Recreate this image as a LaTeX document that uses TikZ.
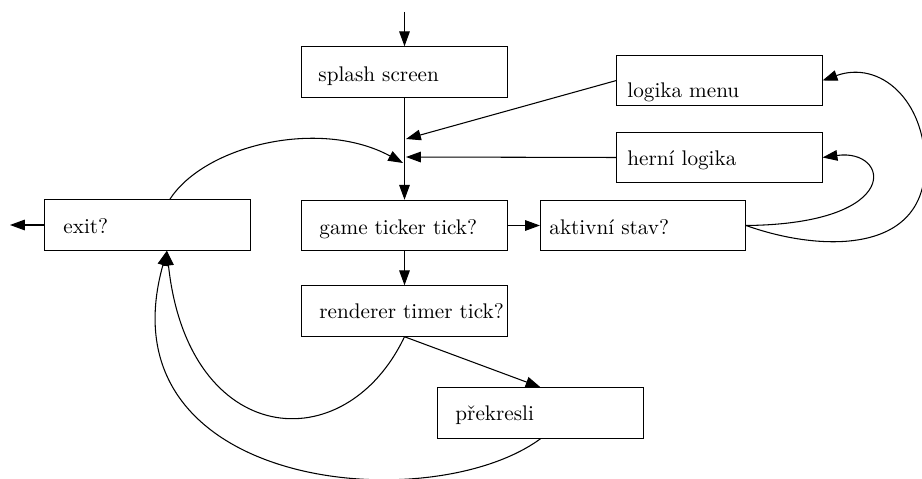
\documentclass[tikz,border=0pt]{standalone}
\usepackage{fontspec}
\usetikzlibrary{arrows.meta}
\begin{document}
\begin{tikzpicture}[x=0.472pt,y=-0.472pt,
  box/.style={draw, line width=0.5pt, minimum width=96.8pt, minimum height=23.8pt, inner sep=0pt},
  txt/.style={anchor=base west, inner sep=0pt},
  conn/.style={line width=0.5pt, -{Triangle[length=7pt,width=5pt]}}]
\useasboundingbox (0,0) rectangle (922,479);
% boxes
\node[box] (splash) at (404.5,72) {};
\node[box] (logika) at (719.5,80.5) {};
\node[box] (herni) at (719.5,157.5) {};
\node[box] (game) at (404.5,225.5) {};
\node[box] (aktivni) at (643,225.5) {};
\node[box] (exit) at (147.5,225) {};
\node[box] (renderer) at (404.5,311) {};
\node[box] (prekresli) at (540.5,413) {};
% texts
\node[txt] (tsplash) at (318,81.5) {splash screen};
\node[txt] (tlogika) at (627,97.5) {logika menu};
\node[txt] (therni) at (627,166) {herní logika};
\node[txt] (tgame) at (319,235) {game ticker tick?};
\node[txt] (taktivni) at (549,235) {aktivní stav?};
\node[txt] (texit) at (63,234) {exit?};
\node[txt] (trenderer) at (319,319) {renderer timer tick?};
\node[txt] (tprekresli) at (455,421) {překresli};
% free ends
\coordinate (start) at (404.5,12);
\coordinate (j1) at (406,139);
\coordinate (j2) at (406,157);
\coordinate (j3) at (403,163);
\coordinate (out) at (10,225);
% connectors
\draw[conn] (start) -- (splash.north);
\draw[conn] (splash.south) -- (game.north);
\draw[conn] (logika.west) -- (j1);
\draw[conn] (herni.west) -- (j2);
\draw[conn] (exit.49) .. controls (205,145) and (320,118) .. (j3);
\draw[conn] (game.east) -- (aktivni.west);
\draw[conn] (game.south) -- (renderer.north);
\draw[conn] (renderer.south) -- (prekresli.north);
\draw[conn] (exit.west) -- (out);
\draw[conn] (aktivni.east) .. controls (905,224) and (890,148) .. (herni.east);
\draw[conn] (aktivni.east) .. controls (820,252) and (925,255) .. (925,165) .. controls (925,100) and (880,60) .. (logika.east);
\draw[conn] (renderer.south) .. controls (345,462) and (188,448) .. (exit.-53);
\draw[conn] (prekresli.south) .. controls (430,520) and (100,490) .. (exit.-53);
\end{tikzpicture}
\end{document}
